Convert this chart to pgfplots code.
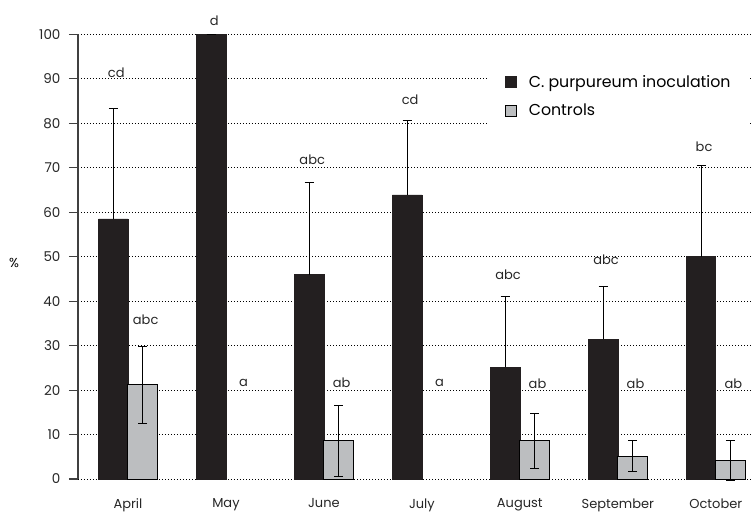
\documentclass[border=0pt]{standalone}
\usepackage{pgfplots}
\pgfplotsset{compat=1.18}
\usepackage{fontspec}
\setmainfont{Poppins}
\definecolor{barblack}{HTML}{231F20}
\definecolor{bargray}{HTML}{BCBEC0}
\definecolor{axgray}{HTML}{404040}
\pgfplotstableread{
x y e
0 58.5 24.8
1 100 0
2 46.0 20.8
3 63.9 16.8
4 25.1 15.9
5 31.4 11.9
6 50.0 20.5
}\inoc
\pgfplotstableread{
x y e
0 21.2 8.6
2 8.6 8.0
4 8.6 6.2
5 5.1 3.5
6 4.1 4.5
}\ctrl
\pgfplotstableread{
x y lab
-0.15 91.4 cd
0.15 35.8 abc
0.85 103.2 d
1.15 21.6 a
1.85 71.8 abc
2.15 21.6 ab
2.85 85.3 cd
3.15 21.5 a
3.85 46.0 abc
4.15 21.5 ab
4.85 49.3 abc
5.15 21.5 ab
5.85 74.8 bc
6.15 21.5 ab
}\labs
\begin{document}
\fontsize{13}{15}\selectfont
\begin{tikzpicture}
\begin{axis}[
  scale only axis,
  width=675pt, height=444.5pt,
  xmin=-0.51, xmax=6.38,
  ymin=0, ymax=100,
  clip=false,
  axis y line*=left,
  axis x line*=bottom,
  x axis line style={draw=none},
  y axis line style={draw=axgray, line width=1.1pt},
  xtick={0,1,2,3,4,5,6},
  xticklabels={April,May,June,July,August,September,October},
  x tick style={draw=none},
  ytick={0,10,...,100},
  y tick style={draw=axgray, line width=1.1pt},
  tick align=outside,
  major tick length=9pt,
  ymajorgrids,
  major grid style={draw=black, line width=0.9pt, dash pattern=on 0.9pt off 2.1pt},
  /pgf/number format/assume math mode=true,
  tick label style={font=\fontsize{13}{15}\selectfont, text=black!85},
  xticklabel style={yshift=-6pt},
  yticklabel style={xshift=-4pt, font=\fontsize{13.5}{15}\selectfont},
  ylabel={\%},
  every axis y label/.style={at={(axis description cs:0,0.486)}, anchor=center, xshift=-64pt, font=\fontsize{13}{15}\selectfont},
  ybar, bar width=0.3,
  legend style={at={(axis description cs:0.607,0.927)}, anchor=north west, draw=none, fill=white,
     font=\fontsize{15.8}{18}\selectfont, row sep=11pt, inner xsep=17pt, inner ysep=6pt,
     /tikz/every odd column/.append style={column sep=10pt}},
  legend image code/.code={\draw[#1, line width=0.9pt] (0pt,-5.5pt) rectangle (11pt,5.5pt);},
  legend cell align=left,
]
\addplot[bar shift=-0.15, fill=barblack, draw=barblack, line width=0.6pt,
  error bars/.cd, y dir=plus, y explicit, error mark options={rotate=90, mark size=4.5pt, line width=0.9pt, black}, error bar style={line width=0.9pt, black}]
  table[x=x, y=y, y error=e] {\inoc};
\addlegendentry{C. purpureum inoculation}
\addplot[bar shift=0.15, fill=bargray, draw=black, line width=1pt,
  error bars/.cd, y dir=both, y explicit, error mark options={rotate=90, mark size=4.5pt, line width=0.9pt, black}, error bar style={line width=0.9pt, black}]
  table[x=x, y=y, y error=e] {\ctrl};
\addlegendentry{Controls}
\addplot[ybar=0pt, bar width=0, draw=none, fill=none, mark=none, forget plot,
  nodes near coords, point meta=explicit symbolic,
  every node near coord/.append style={anchor=center, yshift=0pt, font=\fontsize{13}{15}\selectfont, text=black!85}]
  table[x=x, y=y, meta=lab] {\labs};
\coordinate (bl) at (rel axis cs:0,0);
\coordinate (tr) at (rel axis cs:1,1);
\end{axis}
\pgfresetboundingbox
\path ([xshift=-78pt,yshift=-33pt]bl) rectangle ([xshift=2pt,yshift=34.5pt]tr);
\end{tikzpicture}
\end{document}
